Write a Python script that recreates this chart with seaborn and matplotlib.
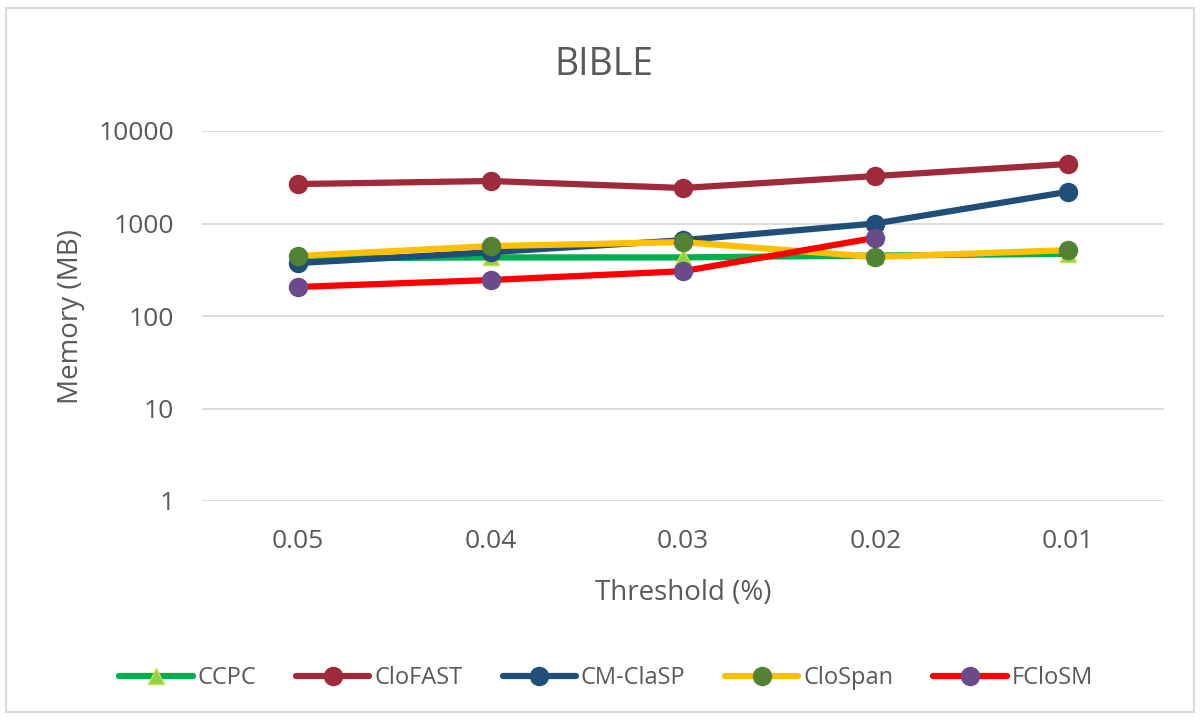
import numpy as np
import pandas as pd
import matplotlib
matplotlib.use("Agg")
import matplotlib.pyplot as plt
import seaborn as sns
from matplotlib.lines import Line2D
from matplotlib.patches import Rectangle

thresholds = ["0.05", "0.04", "0.03", "0.02", "0.01"]
ccpc = [420, 430, 430, 450, 470]
clofast = [2670, 2880, 2420, 3260, 4400]
cmclasp = [374, 490, 660, 1000, 2200]
clospan = [446, 570, 630, 435, 515]
fclosm = [206, 245, 305, 700, np.nan]

series = [
    ("CCPC", ccpc, "#00B050", "^", "#92D050", "#C9E03A", 11),
    ("CloFAST", clofast, "#9E2A3C", "o", "#9E2A3C", "#9E2A3C", 13),
    ("CM-ClaSP", cmclasp, "#1F4E79", "o", "#1F4E79", "#1F4E79", 13),
    ("CloSpan", clospan, "#FFC000", "o", "#548235", "#548235", 13),
    ("FCloSM", fclosm, "#FF0000", "o", "#6B4A8C", "#6B4A8C", 13),
]

sns.set_theme(style="white")
plt.rcParams['font.family'] = ['Open Sans', 'DejaVu Sans']
text_color = "#595959"

fig = plt.figure(figsize=(12, 7.2), dpi=100)
ax = fig.add_axes([202/1200, 1 - 501/720, (1164-202)/1200, (501-131)/720])

xs = np.arange(len(thresholds))
handles = []
for name, vals, col, mk, mfc, mec, ms in series:
    df = pd.DataFrame({"x": xs, "y": vals}).dropna()
    sns.lineplot(data=df, x="x", y="y", ax=ax, color=col, linewidth=4.5,
                 marker=mk, markersize=ms, markerfacecolor=mfc,
                 markeredgecolor=mec, markeredgewidth=1, zorder=3)
    handles.append(Line2D([0], [0], color=col, linewidth=4.5, marker=mk,
                          markersize=ms, markerfacecolor=mfc,
                          markeredgecolor=mec, label=name))

ax.set_yscale("log")
ax.set_ylim(1, 10000)
ax.set_xlim(-0.5, len(thresholds) - 0.5)
ax.set_yticks([1, 10, 100, 1000, 10000])
ax.set_yticklabels(["1", "10", "100", "1000", "10000"])
ax.minorticks_off()
ax.set_xticks(xs)
ax.set_xticklabels(thresholds)
ax.tick_params(axis="both", labelsize=19, colors=text_color, length=0, pad=20)
ax.yaxis.grid(True, color="#D9D9D9", linewidth=1.3)
ax.xaxis.grid(False)
for s in ax.spines.values():
    s.set_visible(False)

ax.set_xlabel("Threshold (%)", fontsize=20, color=text_color, labelpad=18)
ax.set_ylabel("Memory (MB)", fontsize=20, color=text_color, labelpad=10)
fig.text(0.503, 1 - 65/720, "BIBLE", ha="center", va="center", fontsize=27, color=text_color)

fig.legend(handles=handles, loc="center", bbox_to_anchor=(0.505, 1 - 678/720),
           ncol=5, frameon=False, fontsize=17, handlelength=3.1, columnspacing=1.7,
           handletextpad=0.2, labelcolor=text_color)

fig.patches.append(Rectangle((6/1200, 8/720), (1194-6)/1200, (712-8)/720,
                             transform=fig.transFigure, fill=False,
                             edgecolor="#D9D9D9", linewidth=1.5))

fig.savefig("out.png", dpi=100)
